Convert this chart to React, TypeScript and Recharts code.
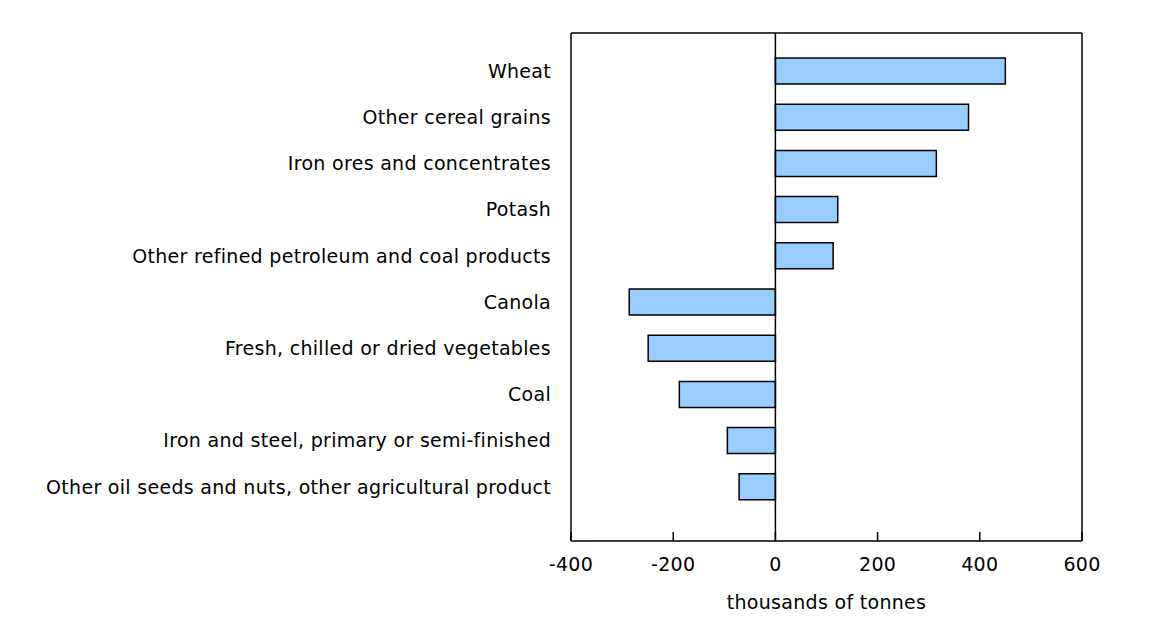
import React from 'react';
import {
  BarChart,
  Bar,
  XAxis,
  YAxis,
  ReferenceLine,
  Label
} from 'recharts';

// change in tonnage, thousands of tonnes
const categories = [
  'Wheat',
  'Other cereal grains',
  'Iron ores and concentrates',
  'Potash',
  'Other refined petroleum and coal products',
  'Canola',
  'Fresh, chilled or dried vegetables',
  'Coal',
  'Iron and steel, primary or semi-finished',
  'Other oil seeds and nuts, other agricultural product'
];
const values = [450, 378, 315, 122, 113, -286, -249, -188, -94, -71];
const xTicks = [-400, -200, 0, 200, 400, 600];

const data = categories.map((name, i) => ({ name, value: values[i] }));

const FONT = '"DejaVu Sans", Verdana, sans-serif';
const textStyle = { fill: '#000', fontSize: 19, fontFamily: FONT, letterSpacing: 0.3 };

// ticks point inward (up from the axis line), labels below
const InwardTick = (props: any) => {
  const { x, y, payload } = props;
  return (
    <g>
      <line x1={x} x2={x} y1={y} y2={y - 9} stroke="#000" strokeWidth={1.5} />
      <text x={x} y={y + 29.5} textAnchor="middle" {...textStyle}>
        {payload.value}
      </text>
    </g>
  );
};

export default function App() {
  return (
    <div style={{ width: 1146, height: 611, fontFamily: FONT }}>
      <BarChart
        layout="vertical"
        width={1146}
        height={611}
        data={data}
        margin={{ top: 24, right: 71, bottom: 0, left: 0 }}
      >
        <XAxis
          type="number"
          domain={[-400, 600]}
          ticks={xTicks}
          height={78}
          tickSize={0}
          tickMargin={0}
          tickLine={false}
          stroke="#000"
          strokeWidth={1.5}
          tick={<InwardTick />}
          interval={0}
        >
          <Label value="thousands of tonnes" position="insideBottom" offset={10} style={textStyle} />
        </XAxis>
        {/* top and right axes only close the frame */}
        <XAxis
          xAxisId="top"
          orientation="top"
          type="number"
          domain={[-400, 600]}
          height={1}
          tick={false}
          tickLine={false}
          stroke="#000"
          strokeWidth={1.5}
        />
        <YAxis
          type="category"
          dataKey="name"
          width={563}
          padding={{ top: 15, bottom: 31 }}
          stroke="#000"
          strokeWidth={1.5}
          tickLine={false}
          tickSize={18}
          tickMargin={2}
          interval={0}
          tick={textStyle}
        />
        <YAxis
          yAxisId="right"
          orientation="right"
          type="category"
          dataKey="name"
          width={1}
          tick={false}
          tickLine={false}
          stroke="#000"
          strokeWidth={1.5}
        />
        <Bar
          dataKey="value"
          fill="#99ccff"
          stroke="#000"
          strokeWidth={1.5}
          barSize={26}
          isAnimationActive={false}
        />
        <ReferenceLine x={0} stroke="#000" strokeWidth={1.5} />
      </BarChart>
    </div>
  );
}
